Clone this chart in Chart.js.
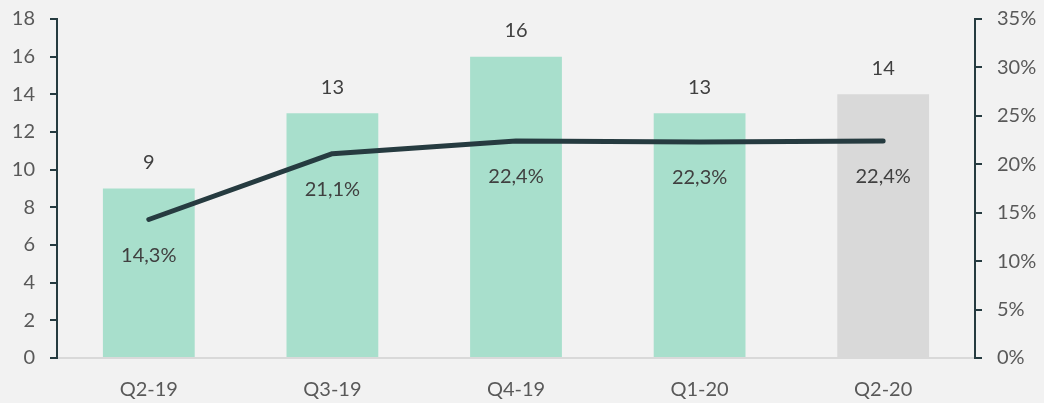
<!DOCTYPE html>
<html><head><meta charset="utf-8">
<script src="https://cdn.jsdelivr.net/npm/chart.js@4/dist/chart.umd.min.js"></script>
<style>html,body{margin:0;padding:0;background:#f2f2f2;}canvas{display:block;}</style>
</head><body>
<canvas id="c" width="1044" height="403"></canvas>
<script>
const categories = ["Q2-19","Q3-19","Q4-19","Q1-20","Q2-20"];
const barValues = [9,13,16,13,14];
const pctValues = [14.3,21.1,22.4,22.3,22.4];
const barColors = ["#a8dfcc","#a8dfcc","#a8dfcc","#a8dfcc","#d9d9d9"];
const leftTicks = [0,2,4,6,8,10,12,14,16,18];
const rightTicks = [0,5,10,15,20,25,30,35];

const FONT = "Lato, Carlito, 'Open Sans', sans-serif";
const dark = "#263b40";

const bgPlugin = {
  id:'bg',
  beforeDraw(chart){const c=chart.ctx;c.save();c.fillStyle='#f2f2f2';c.fillRect(0,0,chart.width,chart.height);c.restore();}
};
const labelPlugin = {
  id:'labels',
  afterDatasetsDraw(chart){
    const ctx=chart.ctx;ctx.save();
    ctx.font="20px "+FONT;ctx.fillStyle="#404040";ctx.textAlign='center';ctx.textBaseline='middle';
    const bm=chart.getDatasetMeta(0);
    bm.data.forEach((el,i)=>{ctx.fillText(String(barValues[i]),el.x,el.y-26);});
    const lm=chart.getDatasetMeta(1);
    lm.data.forEach((el,i)=>{ctx.fillText(pctValues[i].toFixed(1).replace('.',',')+'%',el.x,el.y+36);});
    ctx.restore();
  }
};

new Chart(document.getElementById('c'),{
  data:{
    labels:categories,
    datasets:[
      {type:'bar',data:barValues,backgroundColor:barColors,yAxisID:'y',order:2,barPercentage:1,categoryPercentage:0.5},
      {type:'line',data:pctValues,borderColor:dark,borderWidth:5,borderCapStyle:'round',borderJoinStyle:'round',pointRadius:0,tension:0,yAxisID:'y1',order:1}
    ]
  },
  options:{
    responsive:false,animation:false,
    layout:{padding:{top:19,left:0,right:0,bottom:0}},
    plugins:{legend:{display:false},tooltip:{enabled:false}},
    scales:{
      x:{
        grid:{display:false},
        border:{display:true,color:'#d9d9d9',width:2},
        ticks:{color:'#595959',font:{family:FONT,size:20},padding:12},
        afterFit(s){s.height=45;s.paddingLeft=0;s.paddingRight=0;}
      },
      y:{
        position:'left',min:0,max:18,
        afterBuildTicks(s){s.ticks=leftTicks.map(v=>({value:v}));},
        grid:{drawOnChartArea:false,color:dark,lineWidth:2,tickLength:7},
        border:{color:dark,width:2},
        ticks:{color:'#595959',font:{family:FONT,size:20},padding:15},
        afterFit(s){s.width=57;s.paddingTop=0;s.paddingBottom=0;}
      },
      y1:{
        position:'right',min:0,max:35,
        afterBuildTicks(s){s.ticks=rightTicks.map(v=>({value:v}));},
        grid:{drawOnChartArea:false,color:dark,lineWidth:2,tickLength:7},
        border:{color:dark,width:2},
        ticks:{color:'#595959',font:{family:FONT,size:20},padding:15,callback:v=>v+'%'},
        afterFit(s){s.width=69;s.paddingTop=0;s.paddingBottom=0;}
      }
    }
  },
  plugins:[bgPlugin,labelPlugin]
});
</script>
</body></html>
